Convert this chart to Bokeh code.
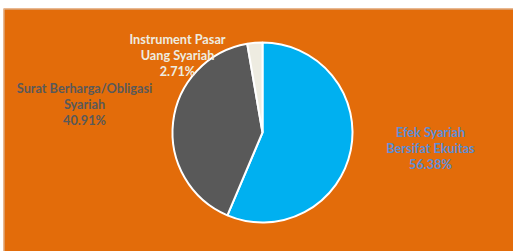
import math
from bokeh.plotting import figure
from bokeh.models import ColumnDataSource, Range1d, Span
from bokeh.core.properties import value
from bokeh.embed import file_html
from bokeh.resources import INLINE

categories = ["Efek Syariah Bersifat Ekuitas", "Surat Berharga/Obligasi Syariah", "Instrument Pasar Uang Syariah"]
values = [56.38, 40.91, 2.71]
label_lines = [["Efek Syariah", "Bersifat Ekuitas", "56.38%"],
               ["Surat Berharga/Obligasi", "Syariah", "40.91%"],
               ["Instrument Pasar", "Uang Syariah", "2.71%"]]

slice_colors = ["#00B0F0", "#595959", "#EEECE1"]
label_colors = ["#5B8DD6", "#595959", "#EEECE1"]
BG = "#E36C0A"

W, H = 520, 258
L, T = 3, 8
FW, FH = W - L, H - T
p = figure(width=W, height=H, output_backend="svg", toolbar_location=None,
           x_range=Range1d(0, FW), y_range=Range1d(0, FH),
           min_border_left=L, min_border_top=T, min_border_right=0, min_border_bottom=0,
           background_fill_color=BG, border_fill_color="white",
           outline_line_color=None)
p.axis.visible = False
p.grid.visible = False

# thin frame lines on left and top only
p.add_layout(Span(location=0.5, dimension="height", line_color="#D6C2B2", line_width=1))
p.add_layout(Span(location=FH - 0.5, dimension="width", line_color="#D6C2B2", line_width=1))

total = sum(values)
starts, ends = [], []
a = math.pi / 2
for v in values:
    starts.append(a)
    a -= 2 * math.pi * v / total
    ends.append(a)

# positions measured from frame top-left
cx, cy_top, r = 259, 124, 90
src = ColumnDataSource(dict(start=starts, end=ends, color=slice_colors, cat=categories))
p.wedge(x=cx, y=FH - cy_top, radius=r, radius_units="screen", start_angle="start", end_angle="end",
        direction="clock", fill_color="color", line_color="white", line_width=2, source=src)

anchors = [(427, 139), (81, 95), (174, 46)]
lh = 16
xs, ys, ts, cs = [], [], [], []
for (ax, ay), lines, col in zip(anchors, label_lines, label_colors):
    for i, t in enumerate(lines):
        xs.append(ax)
        ys.append(FH - (ay + lh * (i - 1)))
        ts.append(t)
        cs.append(col)
p.text(x=xs, y=ys, text=ts, text_color=cs, text_align="center", text_baseline="middle",
       text_font=value("Lato"), text_font_style="bold", text_font_size="12.7px")

html = file_html(p, INLINE)
html = html.replace("</head>", "<style>html,body{overflow:hidden;margin:0}</style></head>", 1)
open("out.html", "w").write(html)
